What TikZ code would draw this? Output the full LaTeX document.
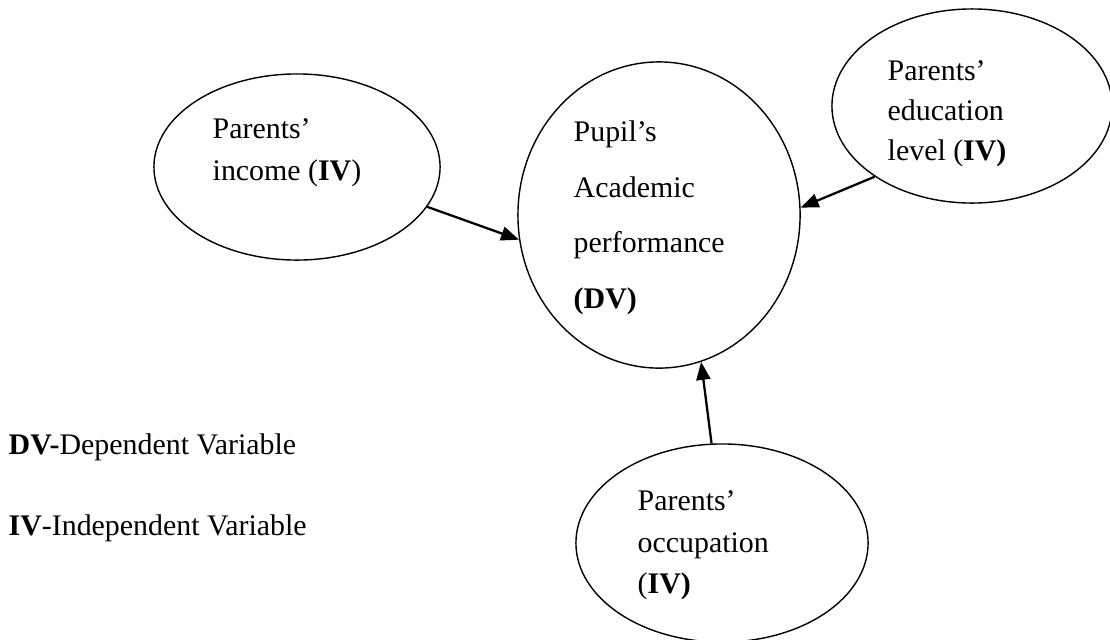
\documentclass[tikz,border=0pt]{standalone}
\usepackage{fontspec}
\setmainfont{Liberation Serif}
\usetikzlibrary{shapes.geometric,arrows.meta}
\tikzset{varellipse/.style = {ellipse, draw=black, line width=0.4pt, inner sep=0pt}}
\tikzset{varlabel/.style = {anchor=north west, align=left, inner sep=0pt, font=\fontsize{8.5}{11.9}\selectfont}}
\tikzset{arrow/.style={line width=0.65pt,-{Triangle[length=0.18cm,width=0.14cm]}}}

\begin{document}
\begin{tikzpicture}[x=0.01cm,y=-0.01cm]
	\useasboundingbox (0,0) rectangle (1110,639);
	\node[varellipse, minimum width=2.86cm, minimum height=1.86cm] (income) at (297,167) {};
	\node[varellipse, minimum width=2.82cm, minimum height=3.06cm] (perf) at (659,215) {};
	\node[varellipse, minimum width=2.80cm, minimum height=1.94cm] (educ) at (972,106) {};
	\node[varellipse, minimum width=2.92cm, minimum height=1.98cm] (occup) at (722,543) {};
	\node[varlabel] (incometext) at (212,118) {Parents'\\income (\textbf{IV})};
	\node[varlabel, font=\fontsize{8.5}{15.8}\selectfont] (perftext) at (573,120) {Pupil's\\Academic\\performance\\\textbf{(DV)}};
	\node[varlabel, font=\fontsize{8.5}{11.4}\selectfont] (eductext) at (887,60) {Parents'\\education\\level (\textbf{IV)}};
	\node[varlabel, font=\fontsize{8.5}{11.8}\selectfont] (occuptext) at (637,490) {Parents'\\occupation\\(\textbf{IV)}};
	\node[varlabel] (dvkey) at (8,433) {\textbf{DV-}Dependent Variable};
	\node[varlabel] (ivkey) at (8,514) {\textbf{IV}-Independent Variable};
	\draw[arrow] (income.-17) -- (perf.190);
	\draw[arrow] (educ.216) -- (perf.3);
	\draw[arrow] (occup.96) -- (perf.-74);
\end{tikzpicture}
\end{document}
